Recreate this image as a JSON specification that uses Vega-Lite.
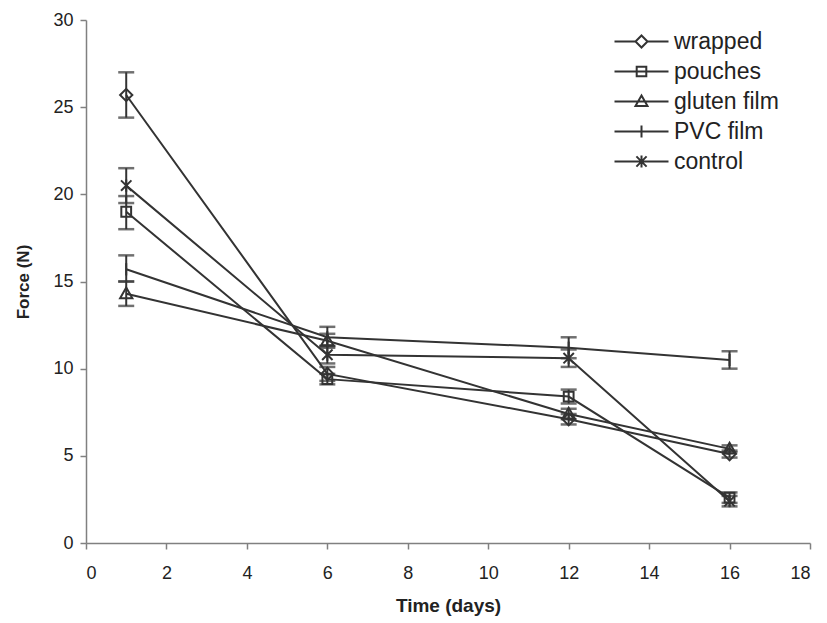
{
  "$schema": "https://vega.github.io/schema/vega-lite/v6.json",
  "width": 724,
  "height": 523,
  "autosize": {"type": "none"},
  "padding": {"left": 86, "top": 20, "right": 17, "bottom": 80},
  "background": "white",
  "config": {
    "view": {"stroke": null},
    "font": "Liberation Sans",
    "axis": {
      "grid": false,
      "domainColor": "#808080",
      "domainWidth": 1.5,
      "tickColor": "#808080",
      "tickWidth": 1.5,
      "tickSize": 6,
      "labelFontSize": 18,
      "labelColor": "#222",
      "labelFont": "Liberation Sans",
      "titleFont": "Liberation Sans",
      "titleFontSize": 17,
      "titleFontWeight": "bold",
      "titleColor": "#222"
    }
  },
  "data": {
    "values": [
      {"treatment": "wrapped", "day": 1, "force": 25.7, "lo": 24.4, "hi": 27.0},
      {"treatment": "wrapped", "day": 6, "force": 9.7, "lo": 9.3, "hi": 10.1},
      {"treatment": "wrapped", "day": 12, "force": 7.1, "lo": 6.8, "hi": 7.4},
      {"treatment": "wrapped", "day": 16, "force": 5.1, "lo": 4.9, "hi": 5.3},
      {"treatment": "pouches", "day": 1, "force": 19.0, "lo": 18.0, "hi": 19.9},
      {"treatment": "pouches", "day": 6, "force": 9.4, "lo": 9.1, "hi": 9.7},
      {"treatment": "pouches", "day": 12, "force": 8.4, "lo": 8.0, "hi": 8.8},
      {"treatment": "pouches", "day": 16, "force": 2.6, "lo": 2.3, "hi": 2.9},
      {"treatment": "gluten film", "day": 1, "force": 14.3, "lo": 13.6, "hi": 15.0},
      {"treatment": "gluten film", "day": 6, "force": 11.6, "lo": 11.2, "hi": 12.0},
      {"treatment": "gluten film", "day": 12, "force": 7.4, "lo": 7.1, "hi": 7.7},
      {"treatment": "gluten film", "day": 16, "force": 5.4, "lo": 5.2, "hi": 5.6},
      {"treatment": "PVC film", "day": 1, "force": 15.7, "lo": 15.0, "hi": 16.5},
      {"treatment": "PVC film", "day": 6, "force": 11.8, "lo": 11.3, "hi": 12.4},
      {"treatment": "PVC film", "day": 12, "force": 11.2, "lo": 10.6, "hi": 11.8},
      {"treatment": "PVC film", "day": 16, "force": 10.5, "lo": 10.0, "hi": 11.0},
      {"treatment": "control", "day": 1, "force": 20.5, "lo": 19.5, "hi": 21.5},
      {"treatment": "control", "day": 6, "force": 10.8, "lo": 10.3, "hi": 11.3},
      {"treatment": "control", "day": 12, "force": 10.6, "lo": 10.1, "hi": 11.1},
      {"treatment": "control", "day": 16, "force": 2.4, "lo": 2.1, "hi": 2.7}
    ]
  },
  "encoding": {
    "x": {
      "field": "day",
      "type": "quantitative",
      "scale": {"domain": [0, 18], "nice": false, "zero": true},
      "axis": {"values": [0, 2, 4, 6, 8, 10, 12, 14, 16, 18], "title": "Time (days)", "titlePadding": 14, "labelPadding": 15, "titleFontSize": 19}
    }
  },
  "resolve": {"scale": {"shape": "independent"}, "legend": {"shape": "independent"}},
  "layer": [
    {
      "mark": {"type": "line", "color": "#333", "strokeWidth": 2},
      "encoding": {
        "y": {
          "field": "force",
          "type": "quantitative",
          "scale": {"domain": [0, 30], "nice": false},
          "axis": {"values": [0, 5, 10, 15, 20, 25, 30], "title": "Force (N)", "titlePadding": 20, "labelPadding": 7}
        },
        "detail": {"field": "treatment"}
      }
    },
    {
      "mark": {"type": "errorbar", "color": "#333", "ticks": {"size": 16, "thickness": 2.5, "color": "#333"}, "rule": {"strokeWidth": 2}},
      "encoding": {
        "y": {"field": "lo", "type": "quantitative", "title": "Force (N)"},
        "y2": {"field": "hi"},
        "detail": {"field": "treatment"}
      }
    },
    {
      "mark": {"type": "point", "filled": false, "color": "#333", "strokeWidth": 2, "size": 150, "opacity": 1},
      "encoding": {
        "y": {"field": "force", "type": "quantitative", "title": "Force (N)"},
        "shape": {
          "field": "treatment",
          "type": "nominal",
          "scale": {
            "domain": ["wrapped", "pouches", "gluten film", "PVC film", "control"],
            "range": [
              "M0,-1L1,0L0,1L-1,0Z",
              "M-0.8,-0.8L0.8,-0.8L0.8,0.8L-0.8,0.8Z",
              "M0,-1L1,0.75L-1,0.75Z",
              "M0,-1L0,1",
              "M-0.85,-0.85L0.85,0.85M-0.85,0.85L0.85,-0.85M0,-1L0,1"
            ]
          },
          "legend": null
        }
      }
    },
    {
      "mark": {"type": "point", "filled": false, "color": "#333", "strokeWidth": 2, "size": 144, "opacity": 0},
      "encoding": {
        "y": {"field": "force", "type": "quantitative", "title": "Force (N)"},
        "shape": {
          "field": "treatment",
          "type": "nominal",
          "scale": {
            "domain": ["wrapped", "pouches", "gluten film", "PVC film", "control"],
            "range": [
              "M-4.5,0L-1,0M1,0L4.5,0M0,-1L1,0L0,1L-1,0Z",
              "M-4.5,0L4.5,0M-0.8,-0.8L0.8,-0.8L0.8,0.8L-0.8,0.8Z",
              "M-4.5,0L4.5,0M0,-1L1,0.75L-1,0.75Z",
              "M-4.5,0L4.5,0M0,-1L0,1",
              "M-4.5,0L4.5,0M-0.85,-0.85L0.85,0.85M-0.85,0.85L0.85,-0.85M0,-1L0,1"
            ]
          },
          "legend": {
            "orient": "none",
            "legendX": 544,
            "legendY": 10,
            "title": null,
            "padding": 0,
            "labelFontSize": 23,
            "labelFont": "Liberation Sans",
            "labelColor": "#222",
            "labelOffset": 21,
            "rowPadding": 6,
            "symbolSize": 144,
            "symbolOpacity": 1,
            "symbolStrokeWidth": 2,
            "symbolStrokeColor": "#333",
            "symbolFillColor": "transparent"
          }
        }
      }
    }
  ]
}
